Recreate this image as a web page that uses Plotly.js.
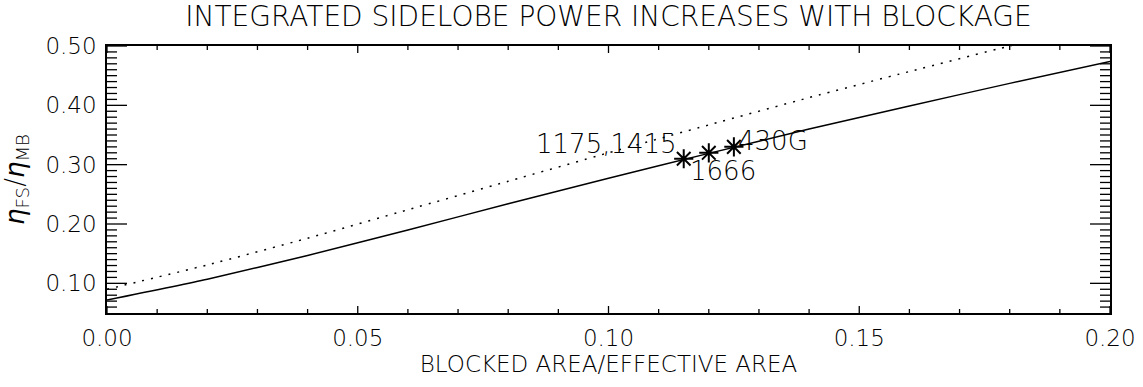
<!DOCTYPE html>
<html>
<head>
<meta charset="utf-8">
<script src="https://cdn.plot.ly/plotly-3.0.1.min.js"></script>
<style>html,body{margin:0;padding:0;background:#fff;}#chart{width:1143px;height:387px;}</style>
</head>
<body>
<div id="chart"></div>
<script>
// Solid curve
const solidX = [0.00, 0.02, 0.04, 0.06, 0.08, 0.10, 0.12, 0.14, 0.16, 0.18, 0.20];
const solidY = [0.072, 0.107, 0.147, 0.190, 0.234, 0.277, 0.319, 0.360, 0.399, 0.437, 0.474];
// Dotted curve
const dottedX = [0.00, 0.02, 0.04, 0.06, 0.08, 0.10, 0.12, 0.14, 0.16, 0.18, 0.19];
const dottedY = [0.090, 0.131, 0.176, 0.224, 0.272, 0.320, 0.367, 0.413, 0.457, 0.500, 0.521];
// Measured points
const pointX = [0.115, 0.120, 0.125];
const pointY = [0.310, 0.320, 0.330];
const pointLabels = ["1175,1415", "1666", "430G"];
// Tick values
const xMajorTicks = [0.00, 0.05, 0.10, 0.15, 0.20];
const xTickText = ["0.00", "0.05", "0.10", "0.15", "0.20"];
const yMajorTicks = [0.10, 0.20, 0.30, 0.40, 0.50];
const yTickText = ["0.10", "0.20", "0.30", "0.40", "0.50"];
const xMinorTicks = [0.01, 0.02, 0.03, 0.04, 0.06, 0.07, 0.08, 0.09, 0.11, 0.12, 0.13, 0.14, 0.16, 0.17, 0.18, 0.19];
const yMinorTicks = [0.06, 0.07, 0.08, 0.09, 0.11, 0.12, 0.13, 0.14, 0.15, 0.16, 0.17, 0.18, 0.19,
                     0.21, 0.22, 0.23, 0.24, 0.25, 0.26, 0.27, 0.28, 0.29, 0.31, 0.32, 0.33, 0.34, 0.35, 0.36, 0.37, 0.38, 0.39,
                     0.41, 0.42, 0.43, 0.44, 0.45, 0.46, 0.47, 0.48, 0.49];

const FONT = "DejaVu Sans, Liberation Sans, sans-serif";
const X_RANGE = [0, 0.2];
const Y_RANGE = [0.05, 0.50];

const traces = [
  {x: solidX, y: solidY, mode: 'lines', line: {color: '#000', width: 1.5, shape: 'spline', smoothing: 0.6}, hoverinfo: 'skip'},
  {x: dottedX, y: dottedY, mode: 'lines', line: {color: '#000', width: 1.5, dash: '2px,7px', shape: 'spline', smoothing: 0.6}, hoverinfo: 'skip'},
  {x: pointX, y: pointY, mode: 'markers', marker: {symbol: 'asterisk-open', size: 16, color: '#000', line: {color: '#000', width: 2}}, hoverinfo: 'skip'}
];

const annotations = [
  {x: pointX[0], y: pointY[0], text: pointLabels[0], xanchor: 'right', yanchor: 'middle', xshift: -5, yshift: 15},
  {x: pointX[0], y: pointY[0], text: pointLabels[1], xanchor: 'left', yanchor: 'middle', xshift: 4, yshift: -12},
  {x: pointX[2], y: pointY[2], text: pointLabels[2], xanchor: 'left', yanchor: 'middle', xshift: 2, yshift: 6}
].map(a => Object.assign(a, {xref: 'x', yref: 'y', showarrow: false, font: {family: FONT, size: 26, color: '#000', weight: 200}}));

// Inward-pointing ticks on all four sides, placed through the axes' own scales
const shapes = [];
const tickLine = {color: 'black', width: 1.3};
function xTick(v, len) {
  shapes.push({type: 'line', xref: 'x', yref: 'paper', ysizemode: 'pixel', yanchor: 0, x0: v, x1: v, y0: 0, y1: len, line: tickLine, layer: 'above'});
  shapes.push({type: 'line', xref: 'x', yref: 'paper', ysizemode: 'pixel', yanchor: 1, x0: v, x1: v, y0: 0, y1: -len, line: tickLine, layer: 'above'});
}
function yTick(v, len) {
  shapes.push({type: 'line', yref: 'y', xref: 'paper', xsizemode: 'pixel', xanchor: 0, y0: v, y1: v, x0: 0, x1: len, line: tickLine, layer: 'above'});
  shapes.push({type: 'line', yref: 'y', xref: 'paper', xsizemode: 'pixel', xanchor: 1, y0: v, y1: v, x0: 0, x1: -len, line: tickLine, layer: 'above'});
}
xMajorTicks.forEach(v => xTick(v, 7));
xMinorTicks.forEach(v => xTick(v, 4));
yMajorTicks.forEach(v => yTick(v, 20));
yMinorTicks.forEach(v => yTick(v, 10));

const tickFont = {family: FONT, size: 23, color: '#000', weight: 200};

const layout = {
  width: 1143, height: 387,
  margin: {l: 107, r: 33, t: 46, b: 74},
  paper_bgcolor: '#fff', plot_bgcolor: '#fff',
  showlegend: false,
  title: {text: 'INTEGRATED SIDELOBE POWER INCREASES WITH BLOCKAGE', x: 0.5, xref: 'paper', xanchor: 'center',
          y: 1 - 16/387, yref: 'container', yanchor: 'middle',
          font: {family: FONT, size: 28, color: '#000', weight: 200}},
  xaxis: {
    range: X_RANGE, tickmode: 'array', tickvals: xMajorTicks, ticktext: xTickText,
    showgrid: false, zeroline: false, showline: true, mirror: true, linecolor: 'black', linewidth: 1.5,
    ticks: '', ticklabelstandoff: 4, tickfont: tickFont,
    title: {text: 'BLOCKED AREA/EFFECTIVE AREA', font: {family: FONT, size: 23, color: '#000', weight: 200}, standoff: 4}
  },
  yaxis: {
    range: Y_RANGE, tickmode: 'array', tickvals: yMajorTicks, ticktext: yTickText,
    showgrid: false, zeroline: false, showline: true, mirror: true, linecolor: 'black', linewidth: 1.5,
    ticks: '', ticklabelstandoff: 4, tickfont: tickFont,
    title: {text: '<i>η</i><sub>FS</sub>/<i>η</i><sub>MB</sub>', font: {family: FONT, size: 26, color: '#000', weight: 200}, standoff: 22}
  },
  shapes: shapes,
  annotations: annotations
};

Plotly.newPlot('chart', traces, layout, {displayModeBar: false});
</script>
</body>
</html>
